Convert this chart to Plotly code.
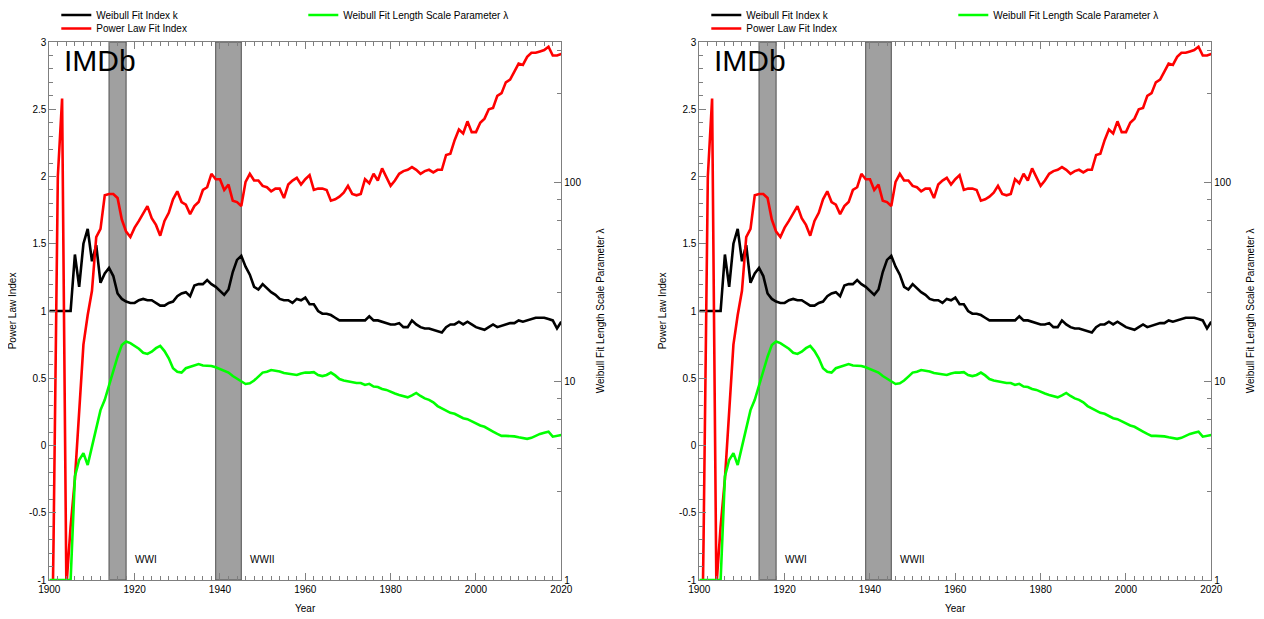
import plotly.graph_objects as go

# ---------------- data ----------------
years = list(range(1900, 2021))

power_law_index = [
    -3.0, -0.7, 2.0, 2.58, -1.05, -0.6, -0.25, 0.25, 0.75, 0.97,            # 1900-1909
    1.15, 1.55, 1.61, 1.86, 1.87, 1.87, 1.84, 1.68, 1.59, 1.55,              # 1910-1919
    1.62, 1.67, 1.72, 1.78, 1.69, 1.64, 1.56, 1.67, 1.73, 1.83,              # 1920-1929
    1.89, 1.81, 1.79, 1.72, 1.78, 1.81, 1.90, 1.92, 2.02, 1.98,              # 1930-1939
    1.98, 1.90, 1.94, 1.82, 1.81, 1.78, 1.96, 2.02, 1.97, 1.97,              # 1940-1949
    1.93, 1.92, 1.89, 1.91, 1.91, 1.84, 1.94, 1.97, 1.99, 1.94,              # 1950-1959
    1.98, 2.01, 1.90, 1.91, 1.91, 1.90, 1.82, 1.83, 1.85, 1.88,              # 1960-1969
    1.93, 1.87, 1.86, 1.87, 1.98, 1.95, 2.02, 1.97, 2.06, 1.99,              # 1970-1979
    1.93, 1.97, 2.02, 2.04, 2.05, 2.07, 2.05, 2.02, 2.04, 2.05,              # 1980-1989
    2.03, 2.05, 2.05, 2.16, 2.17, 2.27, 2.35, 2.32, 2.41, 2.33,              # 1990-1999
    2.33, 2.40, 2.43, 2.50, 2.51, 2.60, 2.62, 2.70, 2.72, 2.78,              # 2000-2009
    2.84, 2.83, 2.89, 2.92, 2.92, 2.93, 2.94, 2.965, 2.90, 2.90,             # 2010-2019
    2.91,                                                                      # 2020
]

weibull_k = [
    1.0, 1.0, 1.0, 1.0, 1.0, 1.0, 1.42, 1.18, 1.50, 1.61,                    # 1900-1909
    1.37, 1.49, 1.21, 1.28, 1.32, 1.26, 1.13, 1.09, 1.07, 1.06,              # 1910-1919
    1.06, 1.08, 1.09, 1.08, 1.08, 1.06, 1.04, 1.04, 1.06, 1.07,              # 1920-1929
    1.11, 1.13, 1.14, 1.11, 1.19, 1.20, 1.20, 1.23, 1.20, 1.18,              # 1930-1939
    1.15, 1.12, 1.16, 1.29, 1.38, 1.41, 1.33, 1.27, 1.18, 1.16,              # 1940-1949
    1.20, 1.17, 1.14, 1.12, 1.09, 1.08, 1.08, 1.06, 1.09, 1.08,              # 1950-1959
    1.10, 1.05, 1.05, 1.00, 0.98, 0.98, 0.97, 0.95, 0.93, 0.93,              # 1960-1969
    0.93, 0.93, 0.93, 0.93, 0.93, 0.96, 0.93, 0.93, 0.92, 0.91,              # 1970-1979
    0.90, 0.90, 0.91, 0.88, 0.88, 0.93, 0.90, 0.88, 0.87, 0.87,              # 1980-1989
    0.86, 0.85, 0.84, 0.88, 0.90, 0.90, 0.92, 0.90, 0.92, 0.90,              # 1990-1999
    0.88, 0.87, 0.86, 0.88, 0.90, 0.88, 0.89, 0.90, 0.91, 0.91,              # 2000-2009
    0.93, 0.92, 0.93, 0.94, 0.95, 0.95, 0.95, 0.94, 0.93, 0.87,              # 2010-2019
    0.92,                                                                      # 2020
]

weibull_lambda = [
    1.0, 1.0, 1.0, 1.0, 1.0, 1.0, 3.31, 4.01, 4.34, 3.78,                    # 1900-1909
    4.68, 5.68, 7.14, 8.04, 9.55, 11.35, 13.24, 15.17, 15.78, 15.5,          # 1910-1919
    15.07, 14.52, 13.87, 13.68, 14.03, 14.62, 15.0, 14.13, 13.0, 11.59,      # 1920-1929
    11.14, 11.02, 11.59, 11.8, 12.02, 12.16, 11.97, 11.91, 11.89, 11.72,     # 1930-1939
    11.48, 11.35, 11.02, 10.59, 10.3, 10.0, 9.66, 9.73, 10.05, 10.52,        # 1940-1949
    11.02, 11.14, 11.35, 11.27, 11.17, 10.96, 10.91, 10.84, 10.72, 10.91,    # 1950-1959
    11.02, 11.02, 11.07, 10.72, 10.59, 10.72, 11.02, 10.67, 10.23, 10.05,    # 1960-1969
    9.93, 9.89, 9.77, 9.77, 9.55, 9.68, 9.38, 9.33, 9.12, 9.02,              # 1970-1979
    8.81, 8.65, 8.51, 8.36, 8.28, 8.47, 8.71, 8.41, 8.18, 8.04,              # 1980-1989
    7.82, 7.48, 7.29, 7.05, 6.92, 6.84, 6.64, 6.5, 6.43, 6.27,               # 1990-1999
    6.12, 5.98, 5.89, 5.75, 5.57, 5.42, 5.3, 5.3, 5.3, 5.27,                 # 2000-2009
    5.21, 5.15, 5.12, 5.18, 5.31, 5.42, 5.5, 5.56, 5.25, 5.3,                # 2010-2019
    5.36,                                                                      # 2020
]

war_names = ["WWI", "WWII"]
war_starts = [1914, 1939]
war_ends = [1918, 1945]

x_tick_vals = [1900, 1920, 1940, 1960, 1980, 2000, 2020]
y_tick_vals = [-1, -0.5, 0, 0.5, 1, 1.5, 2, 2.5, 3]
y_tick_text = ["-1", "-0.5", "0", "0.5", "1", "1.5", "2", "2.5", "3"]
lam_tick_vals = [1, 10, 100]
lam_tick_text = ["1", "10", "100"]
lam_minor_vals = [2.8, 4.6, 6.4, 8.2, 28, 46, 64, 82, 280, 460]

series_names = ["Weibull Fit Index k", "Power Law Fit Index", "Weibull Fit Length Scale Parameter λ"]
dataset_label = "IMDb"

# ---------------- layout constants ----------------
# The page body has an 8px margin, so the figure is drawn 8px in from the window corner.
OFF = 8
W, H = 1264 - OFF, 619 - OFF
FONT = "Liberation Sans, Arial, Helvetica, sans-serif"
AX = "#7f7f7f"


def fx(px):
    """window pixel x -> paper fraction"""
    return (px - OFF) / W


def fy(py):
    """window pixel y -> paper fraction"""
    return 1 - (py - OFF) / H


panel_left_px = [49.3, 699.3]
panel_width_px = 512.0
top_px, bottom_px = 42.0, 580.0
ydom = [fy(bottom_px), fy(top_px)]

fig = go.Figure()

for p in range(2):
    xa = "x" if p == 0 else "x2"
    ya = "y" if p == 0 else "y3"
    ya2 = "y2" if p == 0 else "y4"
    lg = ["legend" if p == 0 else "legend4", f"legend{3 * p + 2}", f"legend{3 * p + 3}"]

    fig.add_trace(go.Scatter(x=years, y=weibull_k, mode="lines", name=series_names[0],
                             line=dict(color="black", width=2.6), xaxis=xa, yaxis=ya,
                             legend=lg[0], showlegend=True))
    fig.add_trace(go.Scatter(x=years, y=power_law_index, mode="lines", name=series_names[1],
                             line=dict(color="#ff0000", width=2.6), xaxis=xa, yaxis=ya,
                             legend=lg[1], showlegend=True))
    fig.add_trace(go.Scatter(x=years, y=weibull_lambda, mode="lines", name=series_names[2],
                             line=dict(color="#00ff00", width=2.6), xaxis=xa, yaxis=ya2,
                             legend=lg[2], showlegend=True))

    xkey = "xaxis" if p == 0 else "xaxis2"
    ykey = "yaxis" if p == 0 else "yaxis3"
    y2key = "yaxis2" if p == 0 else "yaxis4"

    fig.layout[xkey] = dict(
        domain=[fx(panel_left_px[p]), fx(panel_left_px[p] + panel_width_px)],
        range=[1900, 2020], anchor=ya, automargin=False,
        tickmode="array", tickvals=x_tick_vals, ticks="inside", ticklen=7,
        tickcolor=AX, tickwidth=1, showline=True, linecolor=AX, linewidth=1,
        mirror="ticks", showgrid=False, zeroline=False,
        tickfont=dict(size=10, color="black", family=FONT),
        minor=dict(dtick=2, tick0=1900, ticks="inside", ticklen=4, tickcolor=AX, showgrid=False),
    )
    fig.layout[ykey] = dict(
        domain=ydom, range=[-1, 3], anchor=xa, automargin=False,
        tickmode="array", tickvals=y_tick_vals, ticktext=y_tick_text,
        ticks="inside", ticklen=7, tickcolor=AX, tickwidth=1,
        showline=True, linecolor=AX, linewidth=1, showgrid=False, zeroline=False,
        tickfont=dict(size=10, color="black", family=FONT),
        minor=dict(dtick=0.1, tick0=0, ticks="inside", ticklen=4, tickcolor=AX, showgrid=False),
    )
    fig.layout[y2key] = dict(
        type="log", range=[0, 2.7035], overlaying=ya, anchor=xa, side="right", automargin=False,
        tickmode="array", tickvals=lam_tick_vals, ticktext=lam_tick_text,
        ticks="inside", ticklen=7, tickcolor=AX, tickwidth=1,
        showline=True, linecolor=AX, linewidth=1, showgrid=False, zeroline=False,
        tickfont=dict(size=10, color="black", family=FONT),
        minor=dict(tickmode="array", tickvals=lam_minor_vals, ticks="inside", ticklen=4,
                   tickcolor=AX, showgrid=False),
    )

    # war bands
    for name, s, e in zip(war_names, war_starts, war_ends):
        fig.add_shape(type="rect", xref=xa, yref=f"{ya} domain", x0=s, x1=e, y0=0, y1=1,
                      fillcolor="#a0a0a0", line=dict(color="#505050", width=1), layer="below")
        fig.add_annotation(x=e + 1.6, y=-0.85, xref=xa, yref=ya, text=name, showarrow=False,
                           xanchor="left", yanchor="middle",
                           font=dict(size=10, color="black", family=FONT))

    # dataset label
    fig.add_annotation(x=1903.0, y=2.86, xref=xa, yref=ya, text=dataset_label, showarrow=False,
                       xanchor="left", yanchor="middle",
                       font=dict(size=30, color="black", family=FONT))

    # axis titles
    fig.add_annotation(x=fx(panel_left_px[p] + panel_width_px / 2), y=fy(608), xref="paper",
                       yref="paper", text="Year", showarrow=False, xanchor="center",
                       yanchor="middle", font=dict(size=10, color="black", family=FONT))
    fig.add_annotation(x=fx(panel_left_px[p] - 37), y=fy(311), xref="paper", yref="paper",
                       text="Power Law Index", textangle=-90, showarrow=False,
                       xanchor="center", yanchor="middle",
                       font=dict(size=10, color="black", family=FONT))
    fig.add_annotation(x=fx(panel_left_px[p] + 551), y=fy(311), xref="paper", yref="paper",
                       text=series_names[2], textangle=-90, showarrow=False,
                       xanchor="center", yanchor="middle",
                       font=dict(size=10, color="black", family=FONT))

    # legends
    leg_common = dict(font=dict(size=10, color="black", family=FONT), bgcolor="rgba(0,0,0,0)",
                      borderwidth=0, xanchor="left", yanchor="top", orientation="v",
                      itemwidth=30, visible=True)
    lx = panel_left_px[p] + 7
    fig.layout[lg[0]] = dict(x=fx(lx), y=fy(0.5), **leg_common)
    fig.layout[lg[1]] = dict(x=fx(lx), y=fy(14), **leg_common)
    fig.layout[lg[2]] = dict(x=fx(lx + 247), y=fy(0.5), **leg_common)

fig.update_layout(
    width=W, height=H, margin=dict(l=0, r=0, t=0, b=0, autoexpand=False),
    paper_bgcolor="white", plot_bgcolor="white", showlegend=True,
    font=dict(family=FONT, size=10, color="black"),
)

fig.write_html("out.html")
